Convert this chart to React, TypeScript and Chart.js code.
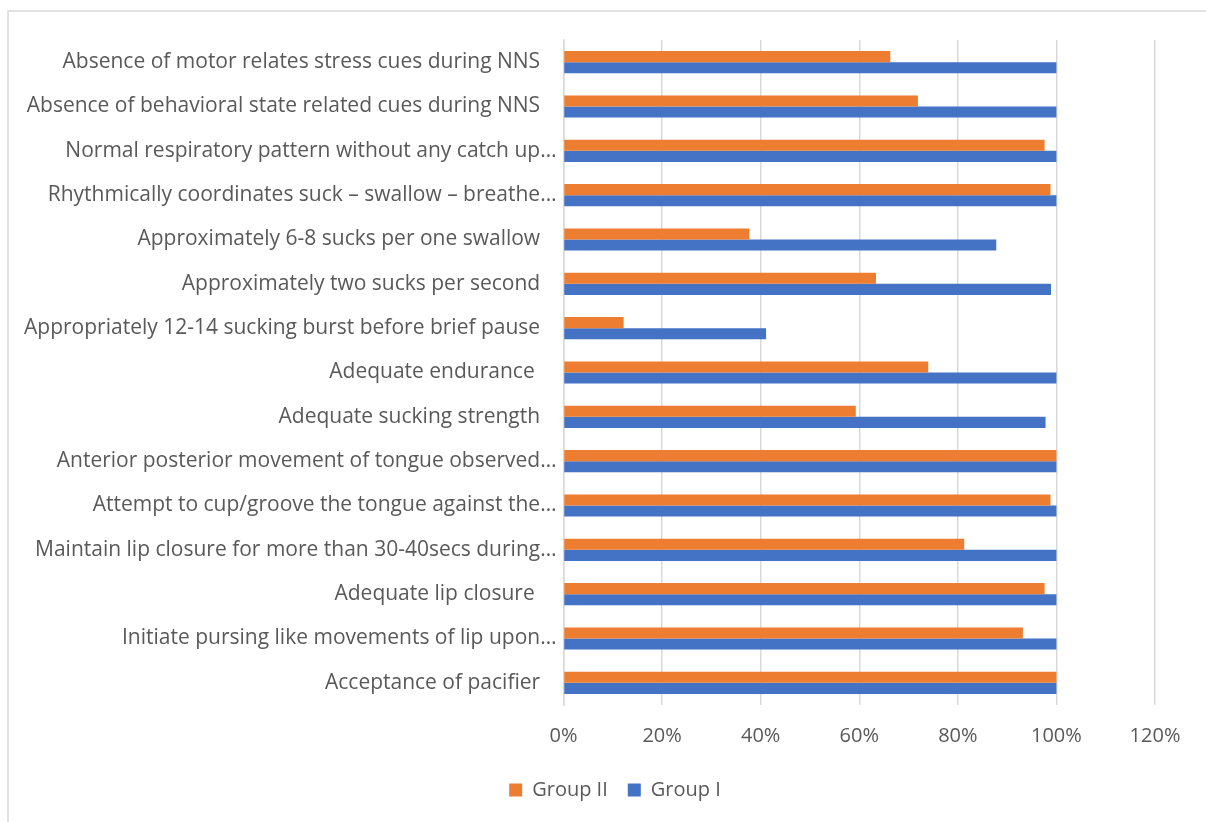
import React, { useEffect, useRef } from "react";
import { Chart, registerables } from "chart.js";

Chart.register(...registerables);

const categories = [
  "Absence of motor relates stress cues during NNS",
  "Absence of behavioral state related cues during NNS",
  "Normal respiratory pattern without any catch up…",
  "Rhythmically coordinates suck – swallow – breathe…",
  "Approximately 6-8 sucks per one swallow",
  "Approximately two sucks per second",
  "Appropriately 12-14 sucking burst before brief pause",
  "Adequate endurance ",
  "Adequate sucking strength",
  "Anterior posterior movement of tongue observed…",
  "Attempt to cup/groove the tongue against the…",
  "Maintain lip closure for more than 30-40secs during…",
  "Adequate lip closure ",
  "Initiate pursing like movements of lip upon…",
  "Acceptance of pacifier",
];

const groupII = [66.3, 71.9, 97.6, 98.8, 37.7, 63.4, 12.2, 74.0, 59.3, 100, 98.8, 81.3, 97.6, 93.2, 100];
const groupI = [100, 100, 100, 100, 87.8, 98.9, 41.1, 100, 97.8, 100, 100, 100, 100, 100, 100];

const xTicks = [0, 20, 40, 60, 80, 100, 120];

const FONT = "'Open Sans', Lato, sans-serif";
const TEXT = "#595959";
const GRID = "#d9d9d9";

const borderPlugin = {
  id: "outerBorder",
  beforeDraw(chart: any) {
    const ctx = chart.ctx;
    ctx.save();
    ctx.strokeStyle = GRID;
    ctx.lineWidth = 1.5;
    ctx.beginPath();
    ctx.moveTo(8, chart.height);
    ctx.lineTo(8, 11);
    ctx.lineTo(chart.width, 11);
    ctx.stroke();
    ctx.restore();
  },
};

export default function App() {
  const ref = useRef<HTMLCanvasElement | null>(null);
  useEffect(() => {
    document.body.style.margin = "0";
    const canvas = ref.current;
    if (!canvas) return;
    const chart = new Chart(canvas, {
      type: "bar",
      data: {
        labels: categories,
        datasets: [
          {
            label: "Group II",
            data: groupII,
            backgroundColor: "#ED7D31",
            borderWidth: 0,
            categoryPercentage: 0.5,
            barPercentage: 1,
          },
          {
            label: "Group I",
            data: groupI,
            backgroundColor: "#4472C4",
            borderWidth: 0,
            categoryPercentage: 0.5,
            barPercentage: 1,
          },
        ],
      },
      options: {
        indexAxis: "y",
        responsive: false,
        animation: false,
        layout: { padding: { top: 40, right: 0, bottom: 12, left: 24 } },
        scales: {
          x: {
            min: 0,
            max: 120,
            afterBuildTicks: (s: any) => {
              s.ticks = xTicks.map((v) => ({ value: v }));
            },
            afterFit: (s: any) => {
              s.height = 55;
              s.paddingRight = 51;
            },
            ticks: {
              callback: (v: any) => v + "%",
              color: TEXT,
              font: { family: FONT, size: 20 },
              padding: 19,
            },
            grid: { color: GRID, lineWidth: 1.5, drawTicks: false },
            border: { display: false },
          },
          y: {
            afterFit: (s: any) => {
              s.width = 539.5;
            },
            ticks: {
              callback: function (this: any, v: any) {
                const l = categories[v as number];
                return l.endsWith("…") ? l : l + "   ";
              },
              color: TEXT,
              font: { family: FONT, size: 21 },
              padding: 7,
              autoSkip: false,
            },
            grid: { display: false, drawTicks: false },
            border: { display: true, color: GRID, width: 1.5 },
          },
        },
        plugins: {
          legend: {
            position: "bottom",
            labels: {
              color: TEXT,
              font: { family: FONT, size: 20 },
              boxWidth: 13,
              boxHeight: 13,
              padding: 20,
            },
          },
          tooltip: { enabled: false },
        },
      },
      plugins: [borderPlugin],
    });
    return () => chart.destroy();
  }, []);
  return <canvas ref={ref} width={1206} height={822} style={{ display: "block" }} />;
}
